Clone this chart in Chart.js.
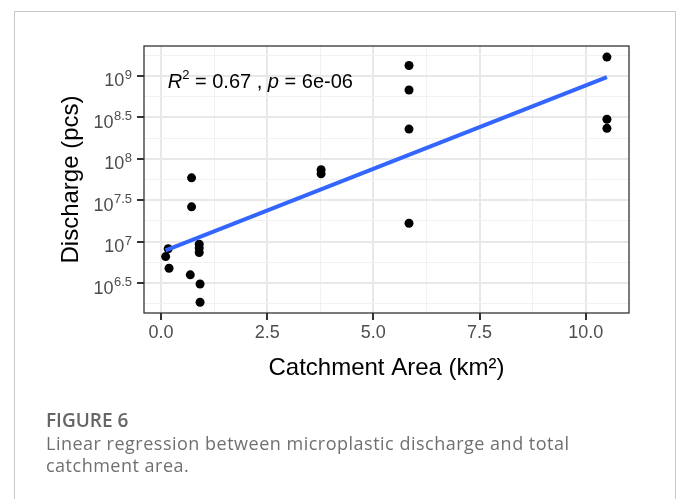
<!DOCTYPE html>
<html>
<head>
<meta charset="utf-8">
<script src="https://cdn.jsdelivr.net/npm/chart.js@4.4.1/dist/chart.umd.min.js"></script>
<style>
  html, body { margin: 0; padding: 0; background: #fff; }
  #wrap { position: relative; width: 681px; height: 499px; overflow: hidden; }
  #frame { position: absolute; left: 14px; top: 11px; width: 660px; height: 520px; border: 1px solid #c8c8c8; }
  #chart { position: absolute; left: 0; top: 0; }
  .fig-label { position: absolute; left: 46px; top: 408px; font: 600 19px/24px "Open Sans", sans-serif; color: #666; }
  .fig-caption { position: absolute; left: 46px; top: 432px; font: 400 18px/22px "Open Sans", sans-serif; letter-spacing: 0.5px; color: #707070; white-space: nowrap; }
</style>
</head>
<body>
<div id="wrap">
  <div id="frame"></div>
  <canvas id="chart" width="681" height="499"></canvas>
  <div class="fig-label">FIGURE 6</div>
  <div class="fig-caption">Linear regression between microplastic discharge and total<br>catchment area.</div>
</div>
<script>
// catchment area (km2) and log10 of discharge (pcs)
const areaKm2 = [0.11, 0.17, 0.19, 0.69, 0.72, 0.72, 0.90, 0.90, 0.90, 0.92, 0.92, 3.77, 3.77, 5.84, 5.84, 5.84, 5.84, 10.5, 10.5, 10.5];
const logDischarge = [6.82, 6.915, 6.68, 6.60, 7.77, 7.42, 6.97, 6.925, 6.87, 6.49, 6.27, 7.867, 7.818, 9.125, 8.83, 8.358, 7.222, 9.226, 8.476, 8.367];

// fitted regression line end points
const fitArea = [0.11, 10.5];
const fitLogDischarge = [6.895, 8.984];

const xMajorTicks = [0, 2.5, 5, 7.5, 10];
const xGridValues = [0, 1.25, 2.5, 3.75, 5, 6.25, 7.5, 8.75, 10];
const yMajorTicks = [6.5, 7, 7.5, 8, 8.5, 9];
const yGridValues = [6.25, 6.5, 6.75, 7, 7.25, 7.5, 7.75, 8, 8.25, 8.5, 8.75, 9, 9.25];

const statR2 = '0.67';
const statP = '6e-06';
const statAt = { x: 0.16, y: 8.85 };

const FONT = '"Liberation Sans", Arial, sans-serif';

const isMajor = (list, c) => c.tick && list.includes(c.tick.value);

const panelExtras = {
  id: 'panelExtras',
  afterDraw(chart) {
    const { ctx, chartArea: a, scales: { x, y } } = chart;
    ctx.save();

    // panel border all round
    ctx.strokeStyle = '#333';
    ctx.lineWidth = 1.3;
    ctx.strokeRect(a.left, a.top, a.right - a.left, a.bottom - a.top);

    // y tick labels as 10^k
    ctx.fillStyle = '#4d4d4d';
    ctx.textBaseline = 'alphabetic';
    ctx.textAlign = 'right';
    const labelRight = a.left - 12;
    yMajorTicks.forEach(v => {
      const py = y.getPixelForValue(v);
      const exp = String(v);
      ctx.font = `13px ${FONT}`;
      const ew = ctx.measureText(exp).width;
      ctx.fillText(exp, labelRight, py + 3);
      ctx.font = `18px ${FONT}`;
      ctx.fillText('10', labelRight - ew - 0.5, py + 10.5);
    });

    // R^2 / p annotation
    const parts = [
      ['R', `italic 20px ${FONT}`, 0],
      ['2', `13px ${FONT}`, -9],
      [` = ${statR2} , `, `20px ${FONT}`, 0],
      ['p', `italic 20px ${FONT}`, 0],
      [` = ${statP}`, `20px ${FONT}`, 0]
    ];
    ctx.fillStyle = '#000';
    ctx.textAlign = 'left';
    let cx = x.getPixelForValue(statAt.x);
    const cy = y.getPixelForValue(statAt.y);
    parts.forEach(([t, f, dy]) => {
      ctx.font = f;
      ctx.fillText(t, cx, cy + dy);
      cx += ctx.measureText(t).width;
    });
    ctx.restore();
  }
};

new Chart(document.getElementById('chart'), {
  type: 'scatter',
  data: {
    datasets: [
      {
        data: fitArea.map((v, i) => ({ x: v, y: fitLogDischarge[i] })),
        showLine: true, borderColor: '#3366ff', borderWidth: 4, pointRadius: 0, order: 0
      },
      {
        data: areaKm2.map((v, i) => ({ x: v, y: logDischarge[i] })),
        backgroundColor: '#000', borderWidth: 0, pointRadius: 4.5, order: 1
      }
    ]
  },
  options: {
    responsive: false,
    animation: false,
    devicePixelRatio: 1,
    layout: { padding: { left: 0, right: 52, top: 46, bottom: 0 } },
    plugins: { legend: { display: false }, tooltip: { enabled: false } },
    scales: {
      x: {
        type: 'linear', min: -0.40, max: 11.02,
        afterBuildTicks: s => { s.ticks = xGridValues.map(v => ({ value: v })); },
        afterFit: s => { s.height = 186; },
        ticks: {
          callback: v => xMajorTicks.includes(v) ? v.toFixed(1) : '',
          color: '#4d4d4d', font: { family: FONT, size: 18 }, padding: 2, maxRotation: 0, autoSkip: false
        },
        grid: {
          color: c => isMajor(xMajorTicks, c) ? '#e8e8e8' : '#f1f1f1',
          lineWidth: c => isMajor(xMajorTicks, c) ? 2 : 1,
          tickColor: c => isMajor(xMajorTicks, c) ? '#333' : 'rgba(0,0,0,0)',
          tickLength: 7, tickWidth: 2
        },
        border: { display: false },
        title: { display: true, text: 'Catchment Area (km²)', color: '#000', font: { family: FONT, size: 24 }, padding: { top: 0, bottom: 116.6 } }
      },
      y: {
        type: 'linear', min: 6.14, max: 9.36,
        afterBuildTicks: s => { s.ticks = yGridValues.map(v => ({ value: v })); },
        afterFit: s => { s.width = 144; },
        ticks: { display: false },
        grid: {
          color: c => isMajor(yMajorTicks, c) ? '#e8e8e8' : '#f1f1f1',
          lineWidth: c => isMajor(yMajorTicks, c) ? 2 : 1,
          tickColor: c => isMajor(yMajorTicks, c) ? '#333' : 'rgba(0,0,0,0)',
          tickLength: 7, tickWidth: 2
        },
        border: { display: false },
        title: { display: true, text: 'Discharge (pcs)', color: '#000', font: { family: FONT, size: 24 }, padding: { top: 56.6, bottom: 0 } }
      }
    }
  },
  plugins: [panelExtras]
});
</script>
</body>
</html>
